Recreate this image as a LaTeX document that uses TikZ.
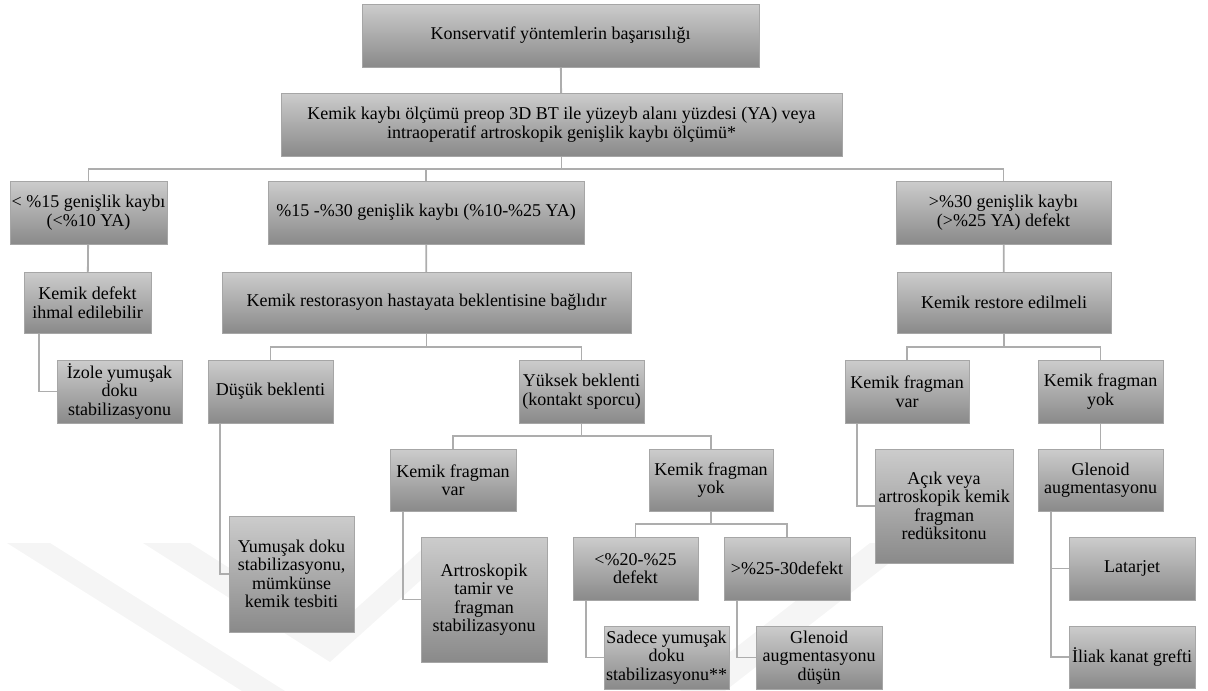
\documentclass[tikz,border=0pt]{standalone}
\usepackage{fontspec}
\setmainfont{Liberation Serif}
\usetikzlibrary{shadows,backgrounds}

\tikzset{
  kutu/.style={draw=black!35, top color=black!20, bottom color=black!46,
    text=black, align=center, inner sep=1pt,
    font=\fontsize{18}{18.5}\selectfont,
    drop shadow={shadow xshift=1.2pt, shadow yshift=-1.2pt, opacity=.25}},
  bag/.style={draw=black!32, line width=1.8pt},
  filigran/.style={fill=black!4, draw=none}
}

\begin{document}
\begin{tikzpicture}[x=1pt,y=-1pt]
\useasboundingbox (0,0) rectangle (1208,691);

% ust seviye
\node[kutu, minimum width=397, minimum height=63] (ust) at (560.5,35.5) {Konservatif yöntemlerin başarısılığı};
\node[kutu, minimum width=561, minimum height=63] (olcum) at (561.5,124.5) {Kemik kaybı ölçümü preop 3D BT ile yüzeyb alanı yüzdesi (YA) veya\\intraoperatif artroskopik genişlik kaybı ölçümü*};

% kayip dereceleri
\node[kutu, minimum width=157, minimum height=63] (kucuk) at (88.5,212.5) {< \%15 genişlik kaybı\\(<\%10 YA)};
\node[kutu, minimum width=316, minimum height=63] (orta) at (426,212.5) {\%15 -\%30 genişlik kaybı (\%10-\%25 YA)};
\node[kutu, minimum width=215, minimum height=63] (buyuk) at (1003.5,212.5) {>\%30 genişlik kaybı\\(>\%25 YA) defekt};

\node[kutu, minimum width=127, minimum height=61] (ihmal) at (87.5,302.5) {Kemik defekt\\ihmal edilebilir};
\node[kutu, minimum width=409, minimum height=61] (beklenti) at (426.5,302.5) {Kemik restorasyon hastayata beklentisine bağlıdır};
\node[kutu, minimum width=214, minimum height=61] (restore) at (1004,302.5) {Kemik restore edilmeli};

\node[kutu, minimum width=125, minimum height=63] (izole) at (119.5,391.5) {İzole yumuşak\\doku\\stabilizasyonu};
\node[kutu, minimum width=125, minimum height=63] (dusuk) at (270.5,391.5) {Düşük beklenti};
\node[kutu, minimum width=125, minimum height=63] (yuksek) at (581.5,391.5) {Yüksek beklenti\\(kontakt sporcu)};
\node[kutu, minimum width=124, minimum height=63] (varR) at (907,391.5) {Kemik fragman\\var};
\node[kutu, minimum width=125, minimum height=63] (yokR) at (1100.5,391.5) {Kemik fragman\\yok};

\node[kutu, minimum width=126, minimum height=62] (varM) at (453,480) {Kemik fragman\\var};
\node[kutu, minimum width=124, minimum height=62] (yokM) at (711,480) {Kemik fragman\\yok};
\node[kutu, minimum width=138, minimum height=114] (acik) at (944,506) {Açık veya\\artroskopik kemik\\fragman\\redüksitonu};
\node[kutu, minimum width=125, minimum height=62] (glenoidR) at (1100.5,480) {Glenoid\\augmentasyonu};

\node[kutu, minimum width=125, minimum height=116] (yumusak) at (291.5,574) {Yumuşak doku\\stabilizasyonu,\\mümkünse\\kemik tesbiti};
\node[kutu, minimum width=126, minimum height=125] (artro) at (484,599.5) {Artroskopik\\tamir ve\\fragman\\stabilizasyonu};
\node[kutu, minimum width=125, minimum height=63] (az) at (635.5,568.5) {<\%20-\%25\\defekt};
\node[kutu, minimum width=126, minimum height=63] (cok) at (787,568.5) {>\%25-30defekt};
\node[kutu, minimum width=126, minimum height=63] (latarjet) at (1132,568.5) {Latarjet};

\node[kutu, minimum width=125, minimum height=63] (sadece) at (666.5,657.5) {Sadece yumuşak\\doku\\stabilizasyonu**};
\node[kutu, minimum width=126, minimum height=63] (glenoidM) at (819,657.5) {Glenoid\\augmentasyonu\\düşün};
\node[kutu, minimum width=126, minimum height=62] (iliak) at (1132,657) {İliak kanat grefti};

\begin{scope}[on background layer]
% filigran
\fill[filigran] (7,543) -- (50,543) -- (285,691) -- (242,691) -- cycle;
\fill[filigran] (143,543) -- (190,543) -- (330,632) -- (429,543) -- (462,543) -- (330,662) -- cycle;
\fill[filigran] (680,691) -- (725,691) -- (915,543) -- (870,543) -- cycle;

% baglantilar
\draw[bag] (ust) -- (olcum);
\foreach \c in {kucuk,orta,buyuk}
  \draw[bag] (olcum.south) -- ++(0,12.5) -| (\c.north);
\draw[bag] (kucuk) -- (ihmal);
\draw[bag] (orta) -- (beklenti);
\draw[bag] (buyuk) -- (restore);
\draw[bag] ([xshift=15pt]ihmal.south west) |- (izole.west);
\foreach \c in {dusuk,yuksek}
  \draw[bag] (beklenti.south) -- ++(0,13.5) -| (\c.north);
\foreach \c in {varR,yokR}
  \draw[bag] (restore.south) -- ++(0,13.5) -| (\c.north);
\draw[bag] ([xshift=12pt]dusuk.south west) |- (yumusak.west);
\foreach \c in {varM,yokM}
  \draw[bag] (yuksek.south) -- ++(0,13) -| (\c.north);
\draw[bag] ([xshift=13pt]varM.south west) |- (artro.west);
\foreach \c in {az,cok}
  \draw[bag] (yokM.south) -- ++(0,13) -| (\c.north);
\draw[bag] ([xshift=13pt]az.south west) |- (sadece.west);
\draw[bag] ([xshift=13pt]cok.south west) |- (glenoidM.west);
\draw[bag] ([xshift=12pt]varR.south west) |- (acik.west);
\draw[bag] (yokR) -- (glenoidR);
\foreach \c in {latarjet,iliak}
  \draw[bag] ([xshift=13pt]glenoidR.south west) |- (\c.west);
\end{scope}
\end{tikzpicture}
\end{document}
